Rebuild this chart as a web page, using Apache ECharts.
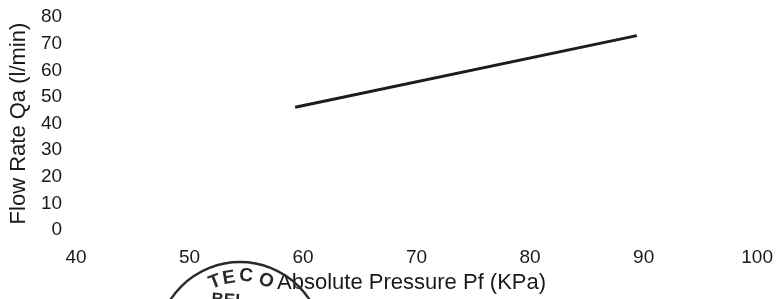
<!DOCTYPE html>
<html>
<head>
<meta charset="utf-8">
<script src="https://cdn.jsdelivr.net/npm/echarts@6/dist/echarts.min.js"></script>
<style>
html,body{margin:0;padding:0;background:#fff;}
#chart{width:776px;height:299px;}
</style>
</head>
<body>
<div id="chart"></div>
<script>
// Data
var pressureKPa = [59.3, 89.4];   // Absolute Pressure Pf (KPa)
var flowRate    = [46.1, 73.0];   // Flow Rate Qa (l/min)
var xTicks = [40, 50, 60, 70, 80, 90, 100];
var yTicks = [0, 10, 20, 30, 40, 50, 60, 70, 80];
var xName = 'Absolute Pressure Pf (KPa)';
var yName = 'Flow Rate Qa (l/min)';
var stampLetters = ['T', 'E', 'C', 'O'];

var FONT = '"Liberation Sans", Arial, sans-serif';
var chart = echarts.init(document.getElementById('chart'), null, {renderer: 'canvas'});

var seriesData = pressureKPa.map(function (x, i) { return [x, flowRate[i]]; });

// scan stamp decoration (partial circle with letters)
var stampPos = [[215, 282, 0.37], [229, 278, 0.16], [246, 276, -0.09], [266, 281, -0.38]];
var graphics = [{
  type: 'circle', shape: {cx: 240, cy: 345, r: 83}, silent: true, z: 1,
  style: {fill: 'none', stroke: '#2a2a2a', lineWidth: 2.4}
}];
stampLetters.forEach(function (ch, i) {
  graphics.push({
    type: 'text', x: stampPos[i][0], y: stampPos[i][1], rotation: stampPos[i][2], silent: true, z: 1,
    style: {text: ch, font: 'bold 19px ' + FONT, fill: '#2a2a2a', align: 'center', verticalAlign: 'middle'}
  });
});
graphics.push({
  type: 'text', x: 229, y: 292, rotation: -0.05, silent: true, z: 1,
  style: {text: 'BEL', font: 'bold 17px ' + FONT, fill: '#2a2a2a', align: 'center', verticalAlign: 'top'}
});

chart.setOption({
  animation: false,
  backgroundColor: '#ffffff',
  grid: {left: 76, right: 18, top: 17, bottom: 65, containLabel: false},
  xAxis: {
    type: 'value', min: xTicks[0], max: xTicks[xTicks.length - 1], interval: 10,
    axisLine: {show: false}, axisTick: {show: false}, splitLine: {show: false},
    axisLabel: {margin: 18, color: '#1a1a1a', fontFamily: FONT, fontSize: 19},
    name: xName, nameLocation: 'middle', nameGap: 39,
    nameTextStyle: {color: '#1a1a1a', fontFamily: FONT, fontSize: 22, padding: [0, 10, 0, 0]}
  },
  yAxis: {
    type: 'value', min: yTicks[0], max: yTicks[yTicks.length - 1], interval: 10,
    axisLine: {show: false}, axisTick: {show: false}, splitLine: {show: false},
    axisLabel: {margin: 14, color: '#1a1a1a', fontFamily: FONT, fontSize: 19},
    name: yName, nameLocation: 'middle', nameGap: 38,
    nameTextStyle: {color: '#1a1a1a', fontFamily: FONT, fontSize: 22}
  },
  graphic: graphics,
  series: [{
    type: 'line', data: seriesData, showSymbol: false, symbol: 'none',
    lineStyle: {color: '#1c1c1c', width: 3}, z: 3
  }]
});
</script>
</body>
</html>
